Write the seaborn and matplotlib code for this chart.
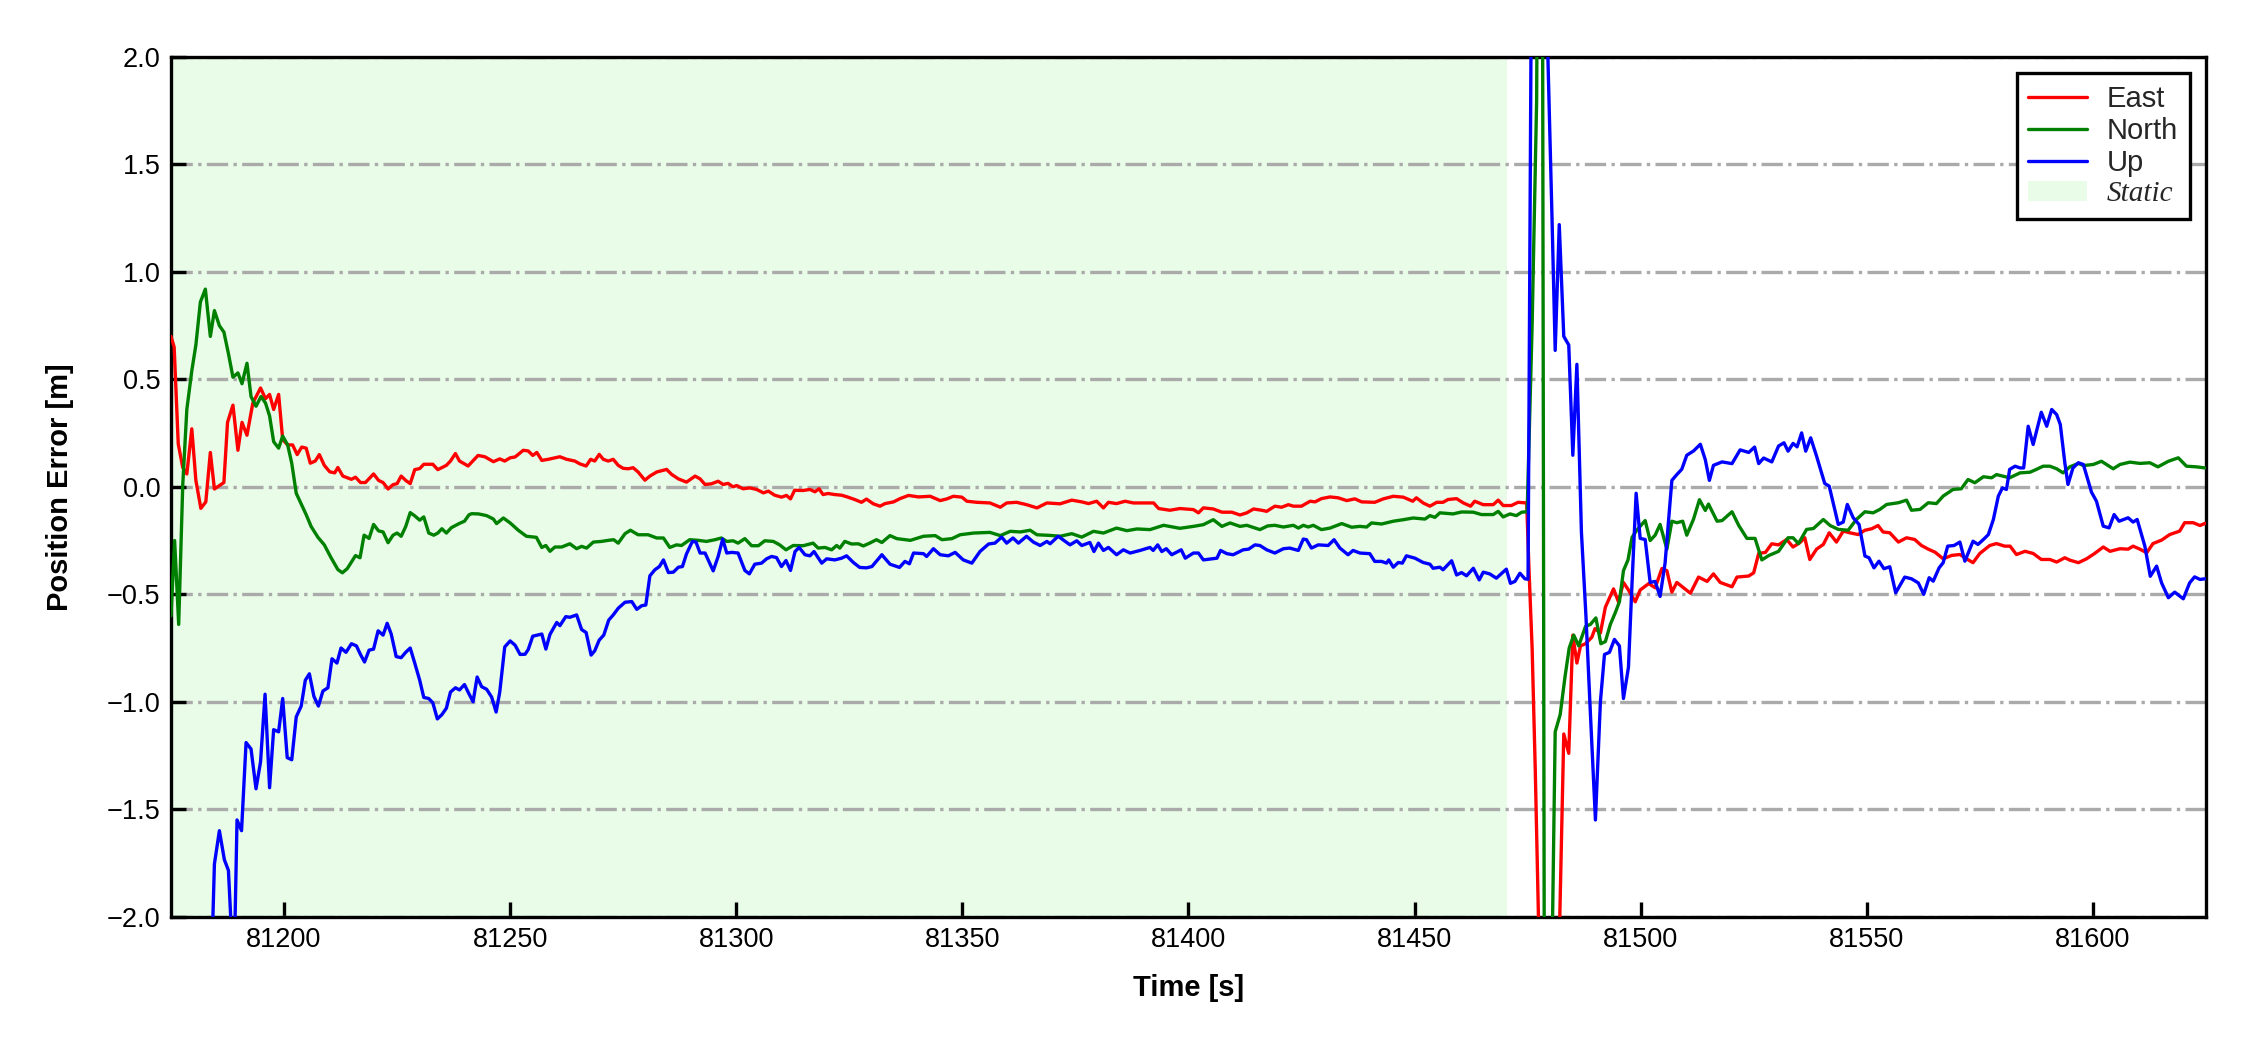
import numpy as np
import matplotlib
matplotlib.use("Agg")
import matplotlib.pyplot as plt
import seaborn as sns
from matplotlib.patches import Patch
from matplotlib.lines import Line2D

# ---------------- data ----------------
static_start = 81175.0
static_end = 81470.5

east_t = [81175.0, 81175.7, 81176.6, 81177.6, 81178.5, 81179.6, 81180.5, 81181.6, 81182.7, 81183.7,
          81184.6, 81186.7, 81187.5, 81188.7, 81189.8, 81190.7, 81191.8, 81193.1, 81194.8, 81195.9,
          81196.8, 81197.7, 81198.8, 81199.7, 81200.8, 81201.9, 81202.9, 81203.9, 81204.9, 81205.8,
          81206.9, 81207.8, 81208.9, 81210.1, 81211.2, 81211.9, 81213.0, 81214.9, 81215.8, 81216.9,
          81218.0, 81219.8, 81220.9, 81221.9, 81223.0, 81224.1, 81225.0, 81225.9, 81226.9, 81227.9,
          81228.9, 81230.0, 81230.9, 81232.9, 81234.0, 81235.9, 81236.8, 81237.9, 81238.8, 81240.7,
          81242.9, 81244.4, 81246.3, 81247.7, 81248.8, 81250.0, 81251.1, 81252.9, 81254.0, 81255.0,
          81255.9, 81257.0, 81258.4, 81259.9, 81261.0, 81262.5, 81264.3, 81265.4, 81266.8, 81267.8,
          81268.7, 81269.7, 81270.6, 81271.7, 81272.8, 81273.9, 81275.0, 81276.1, 81277.2, 81278.3,
          81279.8, 81280.9, 81282.4, 81284.6, 81285.7, 81287.2, 81289.0, 81290.9, 81292.0, 81293.1,
          81294.5, 81296.0, 81297.1, 81298.2, 81299.3, 81300.1, 81301.5, 81303.0, 81304.5, 81306.0,
          81307.1, 81308.5, 81310.0, 81311.1, 81312.0, 81312.9, 81314.8, 81316.3, 81317.4, 81318.3,
          81319.2, 81320.3, 81321.8, 81323.3, 81324.7, 81326.2, 81327.7, 81328.8, 81330.3, 81331.8,
          81332.9, 81334.8, 81336.2, 81338.1, 81340.3, 81342.9, 81345.1, 81346.6, 81348.0, 81349.9,
          81351.0, 81353.2, 81356.1, 81358.4, 81359.8, 81362.0, 81364.2, 81366.5, 81368.7, 81371.6,
          81374.2, 81376.4, 81377.9, 81379.7, 81381.2, 81382.3, 81384.1, 81386.0, 81387.8, 81389.7,
          81392.3, 81393.4, 81395.9, 81398.1, 81401.1, 81402.2, 81403.3, 81405.5, 81407.4, 81409.6,
          81411.4, 81412.9, 81414.4, 81416.2, 81417.3, 81419.1, 81420.6, 81422.1, 81423.2, 81425.0,
          81426.9, 81428.0, 81429.4, 81431.3, 81433.1, 81435.0, 81436.8, 81438.3, 81441.2, 81443.1,
          81445.3, 81447.5, 81449.6, 81450.4, 81451.9, 81453.4, 81454.9, 81456.3, 81457.4, 81459.3,
          81460.8, 81462.4, 81463.3, 81465.2, 81467.4, 81468.5, 81469.6, 81471.4, 81472.9, 81474.8,
          81475.3, 81476.0, 81476.7, 81477.5, 81478.5, 81480.0, 81481.5, 81483.0, 81484.1, 81485.0,
          81485.9, 81486.7, 81487.8, 81489.2, 81489.9, 81491.1, 81492.2, 81494.0, 81495.1, 81496.2,
          81497.3, 81498.8, 81499.9, 81501.8, 81503.2, 81504.7, 81505.8, 81506.9, 81508.0, 81509.5,
          81511.0, 81512.8, 81514.7, 81516.1, 81517.6, 81520.2, 81521.3, 81523.9, 81525.0, 81526.1,
          81527.6, 81529.0, 81530.5, 81532.3, 81533.7, 81535.2, 81536.3, 81537.4, 81538.9, 81540.4,
          81541.7, 81543.3, 81544.8, 81546.3, 81548.1, 81549.6, 81551.1, 81552.5, 81553.6, 81555.1,
          81557.0, 81558.8, 81560.6, 81562.1, 81563.6, 81565.1, 81566.9, 81568.8, 81570.6, 81572.1,
          81573.5, 81575.0, 81577.2, 81578.7, 81580.5, 81581.7, 81583.1, 81585.0, 81586.8, 81588.6,
          81590.5, 81592.0, 81593.8, 81594.9, 81596.8, 81598.6, 81600.4, 81602.3, 81603.8, 81606.0,
          81607.8, 81608.9, 81610.4, 81611.9, 81613.3, 81615.2, 81617.0, 81619.2, 81620.3, 81622.2,
          81623.7, 81624.8]
east_v = [0.70, 0.65, 0.20, 0.09, 0.06, 0.27, 0.03, -0.10, -0.07, 0.16,
          -0.01, 0.02, 0.30, 0.38, 0.17, 0.30, 0.24, 0.39, 0.46, 0.41,
          0.43, 0.36, 0.43, 0.22, 0.195, 0.195, 0.15, 0.185, 0.18, 0.11,
          0.12, 0.15, 0.10, 0.07, 0.065, 0.09, 0.05, 0.035, 0.045, 0.02,
          0.02, 0.06, 0.03, 0.02, -0.01, 0.01, 0.015, 0.05, 0.03, 0.015,
          0.08, 0.085, 0.105, 0.105, 0.08, 0.10, 0.12, 0.155, 0.12, 0.097,
          0.146, 0.14, 0.117, 0.13, 0.12, 0.135, 0.139, 0.17, 0.167, 0.146,
          0.16, 0.123, 0.128, 0.135, 0.14, 0.128, 0.12, 0.107, 0.097, 0.128,
          0.12, 0.151, 0.128, 0.12, 0.128, 0.10, 0.086, 0.084, 0.089, 0.069,
          0.031, 0.05, 0.069, 0.081, 0.058, 0.037, 0.022, 0.05, 0.037, 0.011,
          0.014, 0.026, 0.011, 0.016, 0.0, 0.006, -0.009, -0.005, -0.012, -0.028,
          -0.02, -0.039, -0.048, -0.04, -0.056, -0.016, -0.017, -0.012, -0.023, -0.009,
          -0.036, -0.031, -0.036, -0.039, -0.048, -0.059, -0.072, -0.057, -0.079, -0.09,
          -0.078, -0.07, -0.055, -0.04, -0.047, -0.044, -0.064, -0.056, -0.044, -0.048,
          -0.067, -0.072, -0.075, -0.095, -0.075, -0.072, -0.083, -0.098, -0.075, -0.079,
          -0.062, -0.07, -0.078, -0.067, -0.098, -0.072, -0.078, -0.067, -0.075, -0.075,
          -0.075, -0.101, -0.109, -0.101, -0.106, -0.121, -0.098, -0.103, -0.118, -0.118,
          -0.131, -0.121, -0.103, -0.109, -0.114, -0.09, -0.095, -0.083, -0.09, -0.09,
          -0.067, -0.07, -0.055, -0.047, -0.051, -0.064, -0.056, -0.07, -0.072, -0.056,
          -0.044, -0.048, -0.067, -0.051, -0.075, -0.09, -0.072, -0.072, -0.059, -0.055,
          -0.075, -0.09, -0.067, -0.083, -0.083, -0.062, -0.087, -0.087, -0.072, -0.075,
          -0.38, -0.75, -1.32, -2.1, -3.0, -3.2, -2.6, -1.15, -1.24, -0.69,
          -0.82, -0.74, -0.73, -0.70, -0.66, -0.68, -0.56, -0.475, -0.535, -0.445,
          -0.48, -0.535, -0.48, -0.45, -0.47, -0.38, -0.39, -0.49, -0.445, -0.47,
          -0.495, -0.42, -0.44, -0.405, -0.445, -0.465, -0.42, -0.415, -0.40, -0.31,
          -0.305, -0.265, -0.27, -0.245, -0.28, -0.26, -0.237, -0.338, -0.29, -0.268,
          -0.214, -0.257, -0.206, -0.214, -0.222, -0.202, -0.195, -0.18, -0.21, -0.214,
          -0.257, -0.237, -0.245, -0.273, -0.29, -0.304, -0.335, -0.319, -0.315, -0.335,
          -0.353, -0.31, -0.273, -0.264, -0.276, -0.276, -0.315, -0.30, -0.31, -0.338,
          -0.338, -0.35, -0.33, -0.341, -0.353, -0.335, -0.31, -0.28, -0.30, -0.288,
          -0.29, -0.276, -0.29, -0.307, -0.264, -0.248, -0.222, -0.206, -0.167, -0.167,
          -0.18, -0.17]

north_t = [81175.0, 81175.8, 81176.7, 81177.6, 81178.5, 81179.6, 81180.5, 81181.5, 81182.6, 81183.7,
           81184.6, 81185.7, 81186.7, 81187.7, 81188.7, 81189.8, 81190.7, 81191.8, 81192.7, 81193.8,
           81194.9, 81195.9, 81196.8, 81197.7, 81198.8, 81199.7, 81200.8, 81201.7, 81202.7, 81203.8,
           81204.9, 81206.0, 81207.5, 81208.9, 81210.4, 81211.9, 81212.9, 81214.0, 81214.9, 81215.8,
           81216.8, 81217.7, 81218.8, 81219.8, 81220.9, 81221.9, 81223.0, 81224.1, 81225.0, 81225.9,
           81226.9, 81227.9, 81228.9, 81230.0, 81230.9, 81232.0, 81233.1, 81234.0, 81234.9, 81235.9,
           81237.0, 81237.9, 81238.8, 81239.9, 81240.9, 81241.5, 81243.0, 81244.8, 81246.3, 81247.0,
           81248.5, 81250.0, 81251.8, 81253.6, 81255.8, 81257.0, 81257.9, 81258.8, 81259.9, 81261.4,
           81263.2, 81264.7, 81265.8, 81266.9, 81268.4, 81270.2, 81271.7, 81272.9, 81273.9, 81275.4,
           81276.6, 81278.3, 81280.5, 81282.4, 81283.9, 81285.3, 81286.8, 81287.9, 81289.7, 81291.6,
           81293.4, 81295.3, 81296.7, 81297.9, 81299.3, 81300.4, 81301.9, 81303.4, 81304.9, 81306.3,
           81308.2, 81309.6, 81311.0, 81312.6, 81314.8, 81317.0, 81318.1, 81319.6, 81321.1, 81322.2,
           81322.9, 81324.0, 81325.5, 81327.0, 81328.1, 81329.5, 81331.0, 81332.2, 81334.0, 81335.5,
           81338.5, 81341.4, 81344.0, 81345.5, 81347.7, 81349.5, 81352.5, 81356.1, 81358.4, 81360.6,
           81362.8, 81365.0, 81366.5, 81369.4, 81371.6, 81374.2, 81376.4, 81379.0, 81381.2, 81384.1,
           81386.4, 81388.6, 81391.5, 81394.5, 81398.1, 81401.1, 81403.3, 81405.5, 81407.4, 81409.2,
           81411.4, 81412.9, 81415.8, 81417.5, 81419.1, 81421.0, 81423.2, 81424.3, 81425.4, 81426.5,
           81427.6, 81429.4, 81431.3, 81433.9, 81436.1, 81437.9, 81439.4, 81440.5, 81442.7, 81445.3,
           81447.5, 81449.7, 81452.3, 81453.4, 81454.5, 81455.6, 81458.5, 81460.4, 81463.0, 81464.8,
           81467.4, 81468.5, 81469.6, 81471.1, 81472.5, 81473.7, 81474.9, 81476.0, 81477.0, 81478.0,
           81479.0, 81480.0, 81481.1, 81482.2, 81483.3, 81484.2, 81485.2, 81486.3, 81487.8, 81488.9,
           81490.1, 81491.2, 81492.2, 81493.3, 81494.4, 81495.3, 81496.2, 81497.2, 81498.1, 81499.2,
           81501.0, 81502.1, 81503.2, 81504.3, 81505.8, 81506.9, 81508.0, 81509.3, 81510.2, 81511.7,
           81513.0, 81514.3, 81515.0, 81516.9, 81518.0, 81520.2, 81521.7, 81523.5, 81525.3, 81526.8,
           81528.3, 81530.5, 81532.6, 81533.7, 81534.9, 81536.7, 81538.2, 81540.4, 81541.9, 81543.7,
           81545.9, 81547.7, 81549.6, 81551.4, 81552.9, 81554.4, 81557.0, 81558.8, 81559.9, 81561.8,
           81563.6, 81565.4, 81566.9, 81569.1, 81570.9, 81572.4, 81573.9, 81575.8, 81577.6, 81578.7,
           81581.6, 81583.9, 81586.1, 81587.5, 81589.0, 81590.5, 81592.0, 81593.4, 81594.9, 81596.8,
           81597.9, 81600.1, 81601.9, 81604.5, 81606.0, 81608.2, 81610.4, 81612.6, 81614.4, 81616.7,
           81618.9, 81620.7, 81622.9, 81624.8]
north_v = [-0.60, -0.25, -0.64, 0.01, 0.36, 0.54, 0.66, 0.86, 0.92, 0.70,
           0.82, 0.75, 0.72, 0.62, 0.51, 0.53, 0.48, 0.575, 0.42, 0.375,
           0.42, 0.39, 0.33, 0.21, 0.18, 0.236, 0.195, 0.11, -0.03, -0.08,
           -0.13, -0.185, -0.235, -0.27, -0.33, -0.385, -0.40, -0.38, -0.35, -0.32,
           -0.33, -0.225, -0.24, -0.175, -0.205, -0.21, -0.26, -0.225, -0.215, -0.23,
           -0.185, -0.12, -0.135, -0.155, -0.14, -0.215, -0.225, -0.215, -0.195, -0.215,
           -0.19, -0.18, -0.17, -0.16, -0.13, -0.125, -0.126, -0.134, -0.15, -0.171,
           -0.145, -0.168, -0.202, -0.23, -0.235, -0.282, -0.273, -0.30, -0.28, -0.28,
           -0.265, -0.288, -0.277, -0.285, -0.257, -0.254, -0.249, -0.246, -0.262, -0.218,
           -0.202, -0.223, -0.223, -0.238, -0.238, -0.282, -0.27, -0.273, -0.246, -0.249,
           -0.254, -0.246, -0.238, -0.254, -0.251, -0.262, -0.241, -0.274, -0.274, -0.251,
           -0.254, -0.27, -0.293, -0.273, -0.274, -0.262, -0.285, -0.282, -0.293, -0.273,
           -0.285, -0.254, -0.266, -0.265, -0.275, -0.262, -0.246, -0.259, -0.227, -0.241,
           -0.249, -0.23, -0.227, -0.246, -0.241, -0.223, -0.215, -0.212, -0.227, -0.207,
           -0.21, -0.202, -0.223, -0.226, -0.23, -0.218, -0.234, -0.207, -0.215, -0.192,
           -0.204, -0.196, -0.199, -0.179, -0.193, -0.184, -0.176, -0.153, -0.184, -0.168,
           -0.184, -0.179, -0.199, -0.182, -0.179, -0.187, -0.179, -0.192, -0.179, -0.187,
           -0.179, -0.199, -0.192, -0.171, -0.188, -0.184, -0.187, -0.168, -0.173, -0.16,
           -0.153, -0.145, -0.15, -0.134, -0.142, -0.121, -0.126, -0.117, -0.118, -0.129,
           -0.129, -0.114, -0.14, -0.126, -0.134, -0.118, -0.116, 0.75, 1.8, 6.0,
           -6.0, -2.8, -1.14, -1.06, -0.88, -0.75, -0.69, -0.74, -0.65, -0.64,
           -0.61, -0.73, -0.72, -0.64, -0.585, -0.535, -0.39, -0.34, -0.235, -0.20,
           -0.157, -0.25, -0.225, -0.175, -0.29, -0.16, -0.167, -0.16, -0.225, -0.15,
           -0.06, -0.11, -0.08, -0.16, -0.157, -0.116, -0.18, -0.24, -0.24, -0.34,
           -0.32, -0.30, -0.237, -0.237, -0.264, -0.198, -0.194, -0.152, -0.18, -0.198,
           -0.202, -0.152, -0.116, -0.121, -0.105, -0.082, -0.074, -0.062, -0.109, -0.105,
           -0.074, -0.078, -0.043, -0.012, -0.009, 0.034, 0.019, 0.047, 0.042, 0.057,
           0.042, 0.065, 0.068, 0.081, 0.096, 0.096, 0.084, 0.065, 0.093, 0.109,
           0.099, 0.104, 0.119, 0.084, 0.104, 0.115, 0.109, 0.112, 0.093, 0.119,
           0.135, 0.096, 0.093, 0.088]

up_t = [81175.0, 81180.0, 81183.6, 81184.6, 81185.7, 81186.8, 81187.7, 81188.9, 81189.6, 81190.6,
        81191.6, 81192.7, 81193.8, 81194.8, 81195.8, 81196.8, 81197.7, 81198.8, 81199.7, 81200.7,
        81201.7, 81202.7, 81203.8, 81204.7, 81205.6, 81206.6, 81207.6, 81208.6, 81209.7, 81210.6,
        81211.7, 81212.6, 81213.7, 81214.9, 81216.0, 81216.9, 81217.8, 81218.8, 81219.8, 81220.8,
        81221.9, 81222.8, 81223.7, 81224.8, 81225.9, 81226.9, 81227.9, 81228.9, 81230.0, 81230.9,
        81232.0, 81232.9, 81233.9, 81234.9, 81235.9, 81236.8, 81237.9, 81238.8, 81239.9, 81240.7,
        81241.8, 81242.7, 81243.7, 81244.8, 81245.9, 81246.9, 81247.7, 81248.8, 81250.0, 81251.1,
        81252.2, 81253.3, 81254.0, 81255.0, 81257.0, 81257.9, 81258.8, 81260.3, 81261.0, 81262.3,
        81263.2, 81264.7, 81265.8, 81266.8, 81267.9, 81268.7, 81269.7, 81270.7, 81271.8, 81272.8,
        81273.9, 81275.4, 81276.9, 81278.0, 81279.1, 81280.0, 81280.9, 81282.0, 81283.0, 81283.9,
        81285.0, 81286.1, 81287.2, 81288.1, 81289.0, 81290.3, 81291.1, 81292.0, 81293.1, 81294.9,
        81296.0, 81297.0, 81297.9, 81299.0, 81300.4, 81301.9, 81302.9, 81304.1, 81305.6, 81306.7,
        81307.8, 81308.9, 81310.0, 81311.0, 81312.0, 81313.0, 81313.9, 81315.2, 81316.3, 81317.2,
        81318.9, 81320.0, 81321.8, 81323.3, 81324.4, 81325.9, 81327.3, 81328.8, 81330.0, 81332.2,
        81334.0, 81336.1, 81337.3, 81338.3, 81339.2, 81341.4, 81342.1, 81343.6, 81345.1, 81346.9,
        81348.4, 81350.2, 81352.1, 81353.9, 81355.8, 81357.2, 81358.7, 81359.8, 81361.2, 81362.4,
        81364.2, 81365.7, 81367.2, 81368.7, 81369.4, 81371.2, 81373.8, 81375.3, 81376.4, 81378.2,
        81379.1, 81380.1, 81381.2, 81382.3, 81384.1, 81385.6, 81387.1, 81389.3, 81391.5, 81392.2,
        81393.2, 81394.1, 81395.1, 81396.3, 81398.4, 81399.3, 81401.1, 81402.2, 81403.3, 81406.3,
        81407.1, 81408.5, 81409.9, 81412.1, 81413.3, 81414.7, 81415.8, 81417.3, 81419.1, 81421.0,
        81422.4, 81424.3, 81425.4, 81426.1, 81427.2, 81428.7, 81430.9, 81432.2, 81433.5, 81435.3,
        81436.4, 81437.9, 81440.1, 81441.2, 81442.7, 81443.8, 81444.3, 81445.3, 81446.4, 81447.3,
        81448.2, 81450.1, 81451.9, 81453.4, 81454.1, 81455.6, 81456.3, 81458.2, 81459.3, 81460.4,
        81461.5, 81463.0, 81464.3, 81465.2, 81466.6, 81468.1, 81470.3, 81471.2, 81472.2, 81473.3,
        81474.4, 81475.1, 81476.0, 81477.0, 81478.0, 81479.0, 81480.4, 81481.1, 81482.0, 81483.0,
        81484.1, 81485.0, 81485.9, 81486.9, 81487.9, 81488.9, 81490.0, 81491.1, 81492.0, 81493.1,
        81494.2, 81495.3, 81496.2, 81497.3, 81498.1, 81499.0, 81499.9, 81501.0, 81502.1, 81503.2,
        81504.3, 81505.4, 81506.9, 81508.0, 81509.1, 81510.2, 81511.7, 81513.2, 81514.3, 81515.2,
        81516.1, 81518.0, 81520.2, 81522.0, 81523.9, 81525.2, 81526.1, 81527.2, 81529.0, 81530.5,
        81531.7, 81532.6, 81533.7, 81534.6, 81535.6, 81536.5, 81537.6, 81538.9, 81540.7, 81541.7,
        81543.7, 81544.8, 81545.7, 81547.0, 81548.3, 81549.6, 81550.5, 81551.6, 81552.7, 81553.8,
        81555.1, 81556.4, 81558.4, 81559.9, 81561.4, 81562.6, 81563.8, 81564.7, 81566.0, 81566.9,
        81567.9, 81569.3, 81570.6, 81571.7, 81573.5, 81574.6, 81575.8, 81576.9, 81578.0, 81579.1,
        81580.0, 81580.9, 81581.6, 81582.8, 81583.9, 81584.7, 81585.7, 81586.8, 81588.6, 81589.8,
        81590.9, 81592.0, 81592.8, 81593.8, 81594.5, 81595.6, 81596.8, 81597.9, 81599.7, 81600.8,
        81602.3, 81603.6, 81604.7, 81605.8, 81607.8, 81608.9, 81609.8, 81611.5, 81612.7, 81614.1,
        81615.2, 81616.7, 81618.1, 81620.0, 81621.4, 81622.5, 81623.7, 81624.8]
up_v = [-3.2, -2.9, -2.5, -1.755, -1.60, -1.735, -1.785, -2.3, -1.55, -1.60,
        -1.19, -1.22, -1.405, -1.28, -0.965, -1.40, -1.13, -1.14, -0.985, -1.26,
        -1.27, -1.07, -1.02, -0.90, -0.87, -0.975, -1.02, -0.95, -0.935, -0.80,
        -0.82, -0.75, -0.77, -0.73, -0.74, -0.78, -0.815, -0.76, -0.755, -0.67,
        -0.69, -0.635, -0.685, -0.79, -0.795, -0.77, -0.75, -0.82, -0.90, -0.98,
        -0.985, -1.005, -1.08, -1.06, -1.03, -0.955, -0.935, -0.945, -0.92, -0.955,
        -1.0, -0.885, -0.93, -0.942, -0.978, -1.048, -0.955, -0.745, -0.717, -0.737,
        -0.78, -0.779, -0.757, -0.695, -0.685, -0.755, -0.687, -0.631, -0.646, -0.604,
        -0.607, -0.596, -0.664, -0.678, -0.783, -0.763, -0.713, -0.69, -0.62, -0.596,
        -0.565, -0.537, -0.534, -0.57, -0.553, -0.55, -0.414, -0.386, -0.371, -0.34,
        -0.399, -0.397, -0.374, -0.371, -0.312, -0.254, -0.257, -0.308, -0.308, -0.391,
        -0.324, -0.243, -0.308, -0.305, -0.308, -0.389, -0.405, -0.36, -0.355, -0.335,
        -0.324, -0.329, -0.371, -0.343, -0.389, -0.301, -0.282, -0.316, -0.321, -0.301,
        -0.355, -0.335, -0.34, -0.332, -0.321, -0.352, -0.375, -0.377, -0.371, -0.316,
        -0.36, -0.375, -0.347, -0.358, -0.308, -0.311, -0.324, -0.288, -0.316, -0.321,
        -0.305, -0.34, -0.355, -0.301, -0.266, -0.262, -0.234, -0.262, -0.238, -0.262,
        -0.23, -0.257, -0.273, -0.254, -0.265, -0.23, -0.27, -0.251, -0.273, -0.259,
        -0.301, -0.262, -0.296, -0.282, -0.316, -0.293, -0.308, -0.296, -0.282, -0.296,
        -0.27, -0.301, -0.288, -0.316, -0.293, -0.332, -0.308, -0.308, -0.34, -0.332,
        -0.296, -0.311, -0.316, -0.293, -0.29, -0.27, -0.273, -0.293, -0.308, -0.288,
        -0.285, -0.296, -0.243, -0.246, -0.285, -0.27, -0.273, -0.246, -0.285, -0.316,
        -0.296, -0.308, -0.311, -0.347, -0.347, -0.355, -0.34, -0.374, -0.352, -0.355,
        -0.321, -0.332, -0.352, -0.36, -0.379, -0.374, -0.386, -0.344, -0.41, -0.399,
        -0.414, -0.379, -0.433, -0.397, -0.405, -0.425, -0.383, -0.449, -0.44, -0.402,
        -0.428, -0.43, 3.0, 4.0, 3.5, 2.4, 1.25, 0.635, 1.22, 0.70,
        0.66, 0.147, 0.57, -0.21, -0.6, -1.06, -1.55, -1.0, -0.78, -0.77,
        -0.71, -0.74, -0.985, -0.84, -0.445, -0.03, -0.24, -0.245, -0.445, -0.44,
        -0.51, -0.355, 0.03, 0.057, 0.082, 0.147, 0.167, 0.198, 0.126, 0.03,
        0.10, 0.116, 0.108, 0.172, 0.16, 0.185, 0.108, 0.134, 0.116, 0.19,
        0.205, 0.166, 0.202, 0.186, 0.251, 0.166, 0.228, 0.143, 0.016, 0.003,
        -0.175, -0.164, -0.082, -0.144, -0.175, -0.322, -0.33, -0.377, -0.346, -0.381,
        -0.372, -0.493, -0.42, -0.428, -0.447, -0.50, -0.423, -0.439, -0.377, -0.353,
        -0.276, -0.273, -0.257, -0.346, -0.253, -0.268, -0.245, -0.222, -0.152, -0.043,
        -0.005, -0.012, 0.081, 0.096, 0.088, 0.088, 0.282, 0.197, 0.347, 0.282,
        0.36, 0.336, 0.29, 0.112, 0.011, 0.088, 0.112, 0.104, -0.025, -0.067,
        -0.183, -0.191, -0.129, -0.16, -0.144, -0.164, -0.152, -0.276, -0.416, -0.369,
        -0.447, -0.516, -0.49, -0.521, -0.447, -0.419, -0.431, -0.428]

series_names = ["East", "North", "Up"]
series_colors = ["red", "green", "blue"]
static_color = "#e8fce8"

x_ticks = [81200, 81250, 81300, 81350, 81400, 81450, 81500, 81550, 81600]
y_ticks = [-2.0, -1.5, -1.0, -0.5, 0.0, 0.5, 1.0, 1.5, 2.0]

# ---------------- styling ----------------
sns.set_theme(style="ticks")
plt.rcParams["font.family"] = ["Liberation Sans", "DejaVu Sans"]
plt.rcParams["axes.unicode_minus"] = True

fig = plt.figure(figsize=(7.5, 3.5), dpi=300)
ax = fig.add_axes([0.076, 0.127, 0.9044, 0.8187])

ax.axvspan(static_start, static_end, color=static_color, lw=0, zorder=0)

data = [(east_t, east_v), (north_t, north_v), (up_t, up_v)]
for (tt, vv), name, col in zip(data, series_names, series_colors):
    sns.lineplot(x=np.array(tt), y=np.array(vv), ax=ax, color=col, lw=0.8,
                 estimator=None, sort=False, legend=False, zorder=3)

ax.set_xlim(81175, 81625)
ax.set_ylim(-2, 2)
ax.set_xticks(x_ticks)
ax.set_yticks(y_ticks)
ax.ticklabel_format(axis="x", useOffset=False, style="plain")
ax.yaxis.grid(True, linestyle="-.", color="#aaaaaa", lw=0.8)
ax.xaxis.grid(False)
ax.set_axisbelow(True)
ax.set_facecolor("white")

for s in ax.spines.values():
    s.set_color("black")
    s.set_linewidth(0.8)
ax.tick_params(axis="both", direction="in", length=3.5, width=0.8, color="black",
               labelsize=6.5, labelcolor="black", pad=2.5, bottom=True, left=True,
               top=False, right=False)

ax.set_xlabel("Time [s]", fontsize=7, fontweight="bold", color="black", labelpad=5)
ax.set_ylabel("Position Error [m]", fontsize=7, fontweight="bold", color="black", labelpad=8)

handles = [Line2D([], [], color=c, lw=0.8) for c in series_colors]
handles.append(Patch(facecolor=static_color, edgecolor="none"))
leg = ax.legend(handles, series_names + ["Static"], loc="upper right", fontsize=7,
                frameon=True, fancybox=False, edgecolor="black", framealpha=1,
                borderaxespad=0.55, handlelength=2.0, labelspacing=0.14,
                handletextpad=0.7, borderpad=0.4)
leg.get_frame().set_linewidth(0.8)
st = leg.get_texts()[3]
st.set_fontfamily(["Liberation Serif", "DejaVu Serif"])
st.set_fontstyle("italic")

fig.savefig("out.png", dpi=300, facecolor="white")
